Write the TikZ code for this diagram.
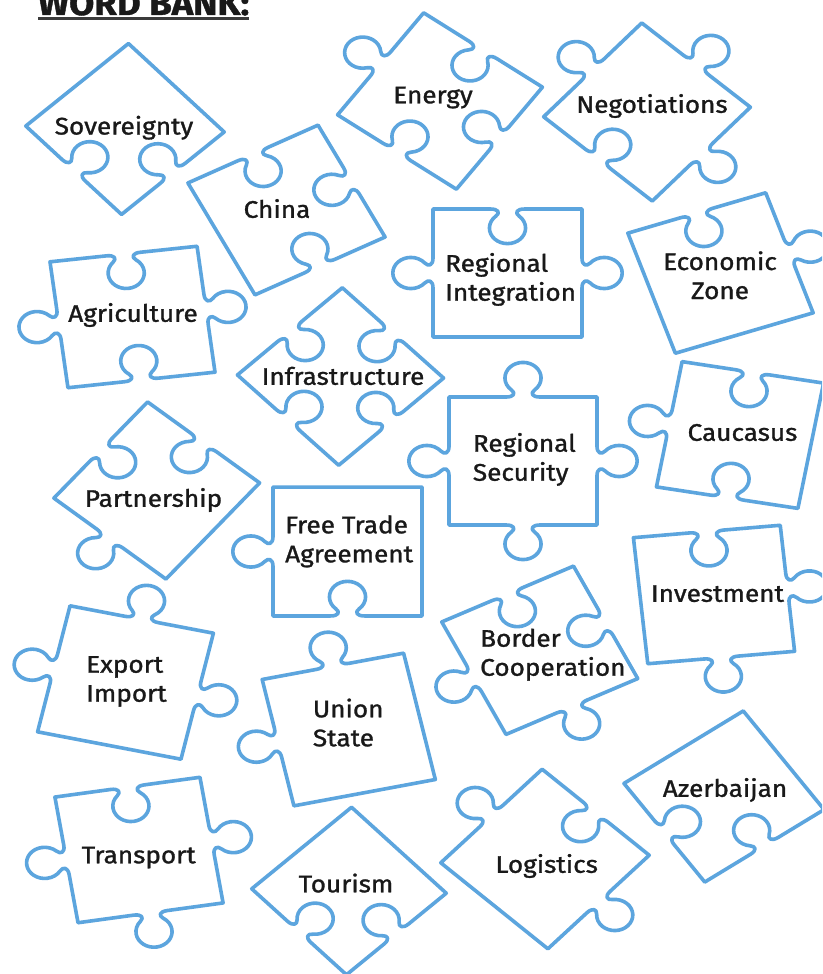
\documentclass[tikz,border=0pt]{standalone}
\usepackage{fontspec}
\setmainfont{Fira Sans}[FakeStretch=1.09, FakeBold=1.2]
\definecolor{pzblue}{RGB}{92,165,222}
\definecolor{ink}{RGB}{25,25,25}
\tikzset{
  pz/.style={draw=pzblue, line width=3.6pt, line join=round, line cap=round},
  lbl/.style={font=\fontsize{24}{29}\selectfont, text=ink, inner sep=0pt},
  lbll/.style={lbl, align=left, anchor=west},
}
\def\tsc{0.93}
% one tab in edge coordinates (u along the edge, v outward)
\newcommand\tabpath[1]{-- #1{-17}{0} .. controls #1{-9}{0} and #1{-7}{4.35} .. #1{-11.57}{8.21}
  .. controls #1{-15.65}{11.63} and #1{-18}{16.68} .. #1{-18}{22}
  .. controls #1{-18}{31.94} and #1{-9.94}{40} .. #1{0}{40}
  .. controls #1{9.94}{40} and #1{18}{31.94} .. #1{18}{22}
  .. controls #1{18}{16.68} and #1{15.65}{11.63} .. #1{11.57}{8.21}
  .. controls #1{7}{4.35} and #1{9}{0} .. #1{17}{0}}
\newcommand\PT[2]{({\tsc*(#1)},{\hh+\tsc*(\tT)*(#2)})}
\newcommand\PR[2]{({\ww+\tsc*(\tR)*(#2)},{-\tsc*(#1)})}
\newcommand\PB[2]{({-\tsc*(#1)},{-\hh-\tsc*(\tB)*(#2)})}
\newcommand\PL[2]{({-\ww-\tsc*(\tL)*(#2)},{\tsc*(#1)})}
% \piece{cx}{cy}{rot}{halfw}{halfh}{top}{right}{bottom}{left}
\newcommand\piece[9]{%
  \def\ww{#4}\def\hh{#5}\def\tT{#6}\def\tR{#7}\def\tB{#8}\def\tL{#9}%
  \ifnum#6=0 \def\tabT{}\else\def\tabT{\tabpath\PT}\fi
  \ifnum#7=0 \def\tabR{}\else\def\tabR{\tabpath\PR}\fi
  \ifnum#8=0 \def\tabB{}\else\def\tabB{\tabpath\PB}\fi
  \ifnum#9=0 \def\tabL{}\else\def\tabL{\tabpath\PL}\fi
  \draw[pz, shift={(#1,-#2)}, xscale=1.08, yscale=0.93, rotate=#3]
    (-\ww,\hh) \tabT -- (\ww,\hh) \tabR -- (\ww,-\hh) \tabB -- (-\ww,-\hh) \tabL -- cycle;
}
\begin{document}
\begin{tikzpicture}[x=1pt,y=1pt]
\clip (0,0) rectangle (822,-974);
\fill[white] (0,0) rectangle (822,-974);
% title
\node[font=\fontsize{33.5}{33.5}\selectfont\bfseries, text=ink, inner sep=0pt, anchor=base west] (title) at (38,-15) {WORD BANK:};
\draw[line width=2.4pt, ink!85] ([yshift=-3.5pt]title.base west) -- ([yshift=-3.5pt]title.base east);
% pieces
\piece{125}{129}{43}{65}{65}{0}{0}{-1}{-1}
\piece{286.5}{210}{27.3}{67.8}{67.7}{-1}{-1}{-1}{0}
\piece{440}{101}{-36}{68}{67.8}{-1}{-1}{-1}{1}
\piece{647}{112}{-42}{67.7}{67.9}{1}{1}{-1}{1}
\piece{132.5}{317}{7}{68.6}{68.2}{-1}{1}{-1}{1}
\piece{340.5}{376.5}{44}{67.5}{67.5}{-1}{-1}{-1}{-1}
\piece{507.5}{273}{0}{69}{68.8}{-1}{1}{0}{1}
\piece{720.5}{273}{18.8}{67.4}{68.2}{-1}{1}{0}{0}
\piece{156.75}{490.5}{-40}{67.7}{67.5}{-1}{0}{1}{-1}
\piece{523}{461}{0}{68.5}{68.8}{1}{1}{1}{1}
\piece{740}{435}{-10}{66.5}{68.4}{-1}{0}{-1}{1}
\piece{347.5}{551.5}{0}{69}{69.3}{0}{0}{-1}{1}
\piece{714}{594.5}{5.6}{68.3}{68.1}{-1}{1}{1}{0}
\piece{539.75}{650.25}{26.2}{68}{67.4}{-1}{-1}{1}{1}
\piece{125.5}{682.5}{-12.5}{68}{69.4}{1}{1}{0}{1}
\piece{348.75}{729.5}{12.2}{67}{69.5}{1}{0}{0}{1}
\piece{139}{850}{9}{68}{68.4}{-1}{1}{1}{1}
\piece{349}{891}{43.5}{63.7}{63.7}{0}{0}{-1}{-1}
\piece{545}{859}{-43}{67.8}{68.8}{-1}{1}{0}{1}
\piece{724}{796.5}{35.2}{67.6}{64.9}{0}{0}{-1}{-1}
% labels
\node[lbl] (sov) at (124,-128.7) {\strut Sovereignty};
\node[lbl] (chi) at (277,-212) {\strut China};
\node[lbl] (ene) at (433,-97.5) {\strut Energy};
\node[lbl] (neg) at (652,-107) {\strut Negotiations};
\node[lbll] (rin) at (445,-280.4) {\strut Regional\\Integration\strut};
\node[lbl, align=center] (eco) at (720,-278.7) {\strut Economic\\Zone\strut};
\node[lbl] (agr) at (133,-316) {\strut Agriculture};
\node[lbl] (inf) at (343,-379) {\strut Infrastructure};
\node[lbl] (cau) at (742.5,-435) {\strut Caucasus};
\node[lbll] (rse) at (472.7,-460.4) {\strut Regional\\Security\strut};
\node[lbl] (par) at (153.5,-501) {\strut Partnership};
\node[lbll] (fta) at (285,-542) {\strut Free Trade\\Agreement\strut};
\node[lbl] (inv) at (717.5,-596) {\strut Investment};
\node[lbll] (bor) at (480,-655.4) {\strut Border\\Cooperation\strut};
\node[lbll] (exi) at (86,-681.4) {\strut Export\\Import\strut};
\node[lbll] (uni) at (312.7,-726) {\strut Union\\State\strut};
\node[lbl] (tra) at (138.7,-857.5) {\strut Transport};
\node[lbl] (tou) at (346,-886.5) {\strut Tourism};
\node[lbl] (log) at (546.7,-867) {\strut Logistics};
\node[lbl] (aze) at (725,-791) {\strut Azerbaijan};
\end{tikzpicture}
\end{document}
